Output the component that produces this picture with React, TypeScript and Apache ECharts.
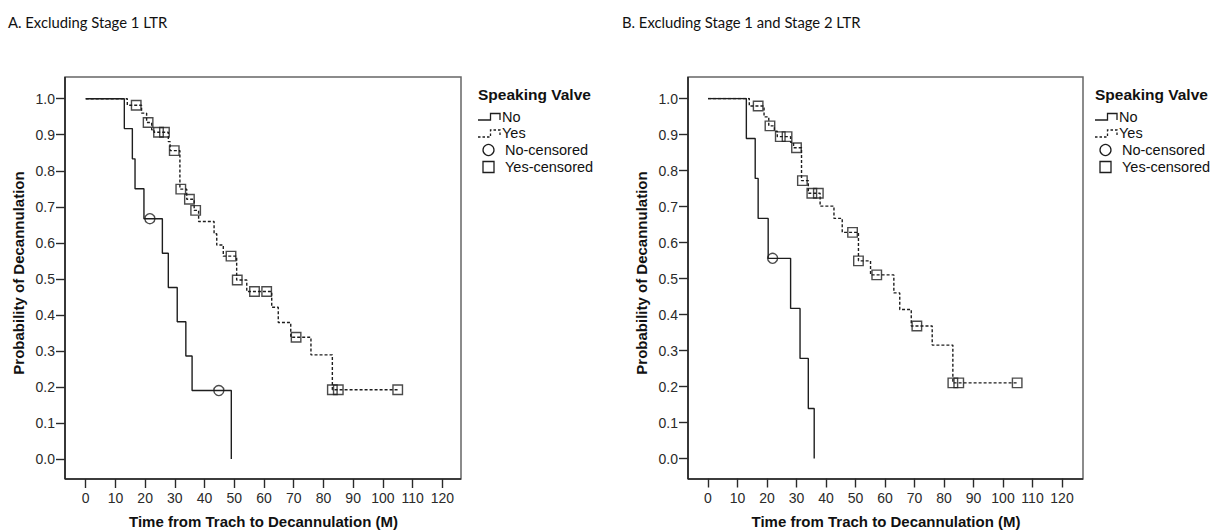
import React, { useEffect, useRef } from "react";
import * as echarts from "echarts";

// ---------- Data ----------
// Panel A: Excluding Stage 1 LTR
const noTimesA = [0, 13, 15.7, 16.6, 19.6, 25.8, 27.8, 30.8, 33.7, 35.8, 49];
const noSurvA = [1, 0.917, 0.833, 0.75, 0.667, 0.571, 0.476, 0.381, 0.286, 0.19, 0];
const noCensA = [21.6, 44.8];
const yesTimesA = [0, 14, 18.8, 20.5, 22.2, 23, 27.8, 28.4, 31.7, 34, 36.5, 38, 43.2, 44.1, 46.3, 50.8, 54.2, 62.6, 64.8, 69, 75.8, 83, 105];
const yesSurvA = [1, 0.982, 0.96, 0.934, 0.914, 0.907, 0.881, 0.856, 0.749, 0.721, 0.69, 0.659, 0.625, 0.594, 0.563, 0.497, 0.465, 0.421, 0.379, 0.338, 0.289, 0.192, 0.192];
const yesCensA = [17, 21, 24.5, 26.5, 29.8, 32, 34.9, 37, 48.9, 51, 56.8, 60.9, 70.8, 83, 85, 105];

// Panel B: Excluding Stage 1 and Stage 2 LTR
const noTimesB = [0, 13, 16, 17, 20.4, 28, 31.2, 34, 36];
const noSurvB = [1, 0.889, 0.778, 0.667, 0.556, 0.417, 0.278, 0.139, 0];
const noCensB = [21.9];
const yesTimesB = [0, 14, 19, 20.6, 22.5, 23.5, 28, 29, 31.7, 34, 38, 42.7, 45.5, 51, 55.1, 63, 65, 68.9, 76, 83, 105];
const yesSurvB = [1, 0.979, 0.949, 0.924, 0.909, 0.894, 0.878, 0.863, 0.772, 0.737, 0.701, 0.667, 0.628, 0.549, 0.51, 0.46, 0.414, 0.368, 0.315, 0.21, 0.21];
const yesCensB = [17, 21, 24.5, 26.8, 30, 32, 35.2, 37.4, 49, 51, 57.2, 70.8, 83, 85, 104.8];

const xTicks = { min: 0, max: 120, interval: 10 };
const yTicks = { min: 0, max: 1, interval: 0.1 };

const titleA = "A. Excluding Stage 1 LTR";
const titleB = "B. Excluding Stage 1 and Stage 2 LTR";
const xName = "Time from Trach to Decannulation (M)";
const yName = "Probability of Decannulation";
const legendTitle = "Speaking Valve";
const legendItems = ["No", "Yes", "No-censored", "Yes-censored"];

// ---------- helpers ----------
function pairs(t: number[], s: number[]) {
  return t.map((v, i) => [v, s[i]]);
}
function survAt(t: number[], s: number[], x: number) {
  let v = s[0];
  for (let i = 0; i < t.length; i++) if (t[i] <= x) v = s[i];
  return v;
}
function cens(t: number[], s: number[], c: number[]) {
  return c.map((x) => [x, survAt(t, s, x)]);
}

const LINE = "#1e1e1e";
const AX = "#2a2a2a";
const SANS = "'Liberation Sans', Arial, sans-serif";

function panelGraphics(p: {
  fl: number; fr: number; ft: number; fb: number;
  title: string; titleX: number; xTitleX: number; yTitleX: number; yTitleY: number;
  legX: number;
}) {
  const els: any[] = [];
  els.push({ type: "rect", shape: { x: p.fl, y: p.ft, width: p.fr - p.fl, height: p.fb - p.ft }, style: { fill: "none", stroke: "#666", lineWidth: 1.5 }, silent: true });
  els.push({ type: "line", shape: { x1: p.fl, y1: p.ft, x2: p.fl, y2: p.fb }, style: { stroke: "#222", lineWidth: 1.6 } });
  els.push({ type: "line", shape: { x1: p.fl, y1: p.fb, x2: p.fr, y2: p.fb }, style: { stroke: "#222", lineWidth: 1.6 } });
  els.push({ type: "text", x: p.titleX, y: 22, style: { text: p.title, font: "14.8px Lato, 'Open Sans', sans-serif", fill: "#111", textVerticalAlign: "middle", textAlign: "left" } });
  els.push({ type: "text", x: p.xTitleX, y: 521, style: { text: xName, font: "bold 15px " + SANS, fill: "#111", textAlign: "center", textVerticalAlign: "middle" } });
  els.push({ type: "text", x: p.yTitleX, y: p.yTitleY, rotation: Math.PI / 2, style: { text: yName, font: "bold 15px " + SANS, fill: "#111", textAlign: "center", textVerticalAlign: "middle" } });
  // legend
  const lx = p.legX;
  els.push({ type: "text", x: lx, y: 94, style: { text: legendTitle, font: "bold 15.5px " + SANS, fill: "#111", textVerticalAlign: "middle" } });
  els.push({ type: "polyline", shape: { points: [[lx, 120], [lx + 12.5, 120], [lx + 12.5, 113.5], [lx + 22, 113.5], [lx + 22, 120]] }, style: { stroke: LINE, lineWidth: 1.3, fill: "none" } });
  els.push({ type: "text", x: lx + 24, y: 116.5, style: { text: legendItems[0], font: "14.5px " + SANS, fill: "#111", textVerticalAlign: "middle" } });
  els.push({ type: "polyline", shape: { points: [[lx, 137], [lx + 12.5, 137], [lx + 12.5, 130], [lx + 22, 130], [lx + 22, 136]] }, style: { stroke: LINE, lineWidth: 1.3, fill: "none", lineDash: [2.5, 2] } });
  els.push({ type: "text", x: lx + 24, y: 133, style: { text: legendItems[1], font: "14.5px " + SANS, fill: "#111", textVerticalAlign: "middle" } });
  els.push({ type: "circle", shape: { cx: lx + 10.5, cy: 150, r: 5.5 }, style: { fill: "none", stroke: LINE, lineWidth: 1.3 } });
  els.push({ type: "text", x: lx + 27, y: 150, style: { text: legendItems[2], font: "14.5px " + SANS, fill: "#111", textVerticalAlign: "middle" } });
  els.push({ type: "rect", shape: { x: lx + 5, y: 161.5, width: 11, height: 11 }, style: { fill: "none", stroke: LINE, lineWidth: 1.3 } });
  els.push({ type: "text", x: lx + 27, y: 167, style: { text: legendItems[3], font: "14.5px " + SANS, fill: "#111", textVerticalAlign: "middle" } });
  return els;
}

function xAxisCfg(gi: number) {
  return {
    type: "value", gridIndex: gi, ...xTicks, offset: 20, position: "bottom",
    axisLine: { show: false, onZero: false },
    axisTick: { show: true, length: 9, lineStyle: { color: AX, width: 1.4 } },
    axisLabel: { fontSize: 14, color: AX, margin: 12, fontFamily: SANS },
    splitLine: { show: false },
  };
}
function yAxisCfg(gi: number, off: number) {
  return {
    type: "value", gridIndex: gi, ...yTicks, offset: off, position: "left",
    axisLine: { show: false, onZero: false },
    axisTick: { show: true, length: 9, lineStyle: { color: AX, width: 1.4 } },
    axisLabel: { fontSize: 14, color: AX, margin: 10, fontFamily: SANS, formatter: (v: number) => v.toFixed(1) },
    splitLine: { show: false },
  };
}
function kmLine(data: number[][], idx: number, dashed: boolean) {
  return {
    type: "line", step: "end", xAxisIndex: idx, yAxisIndex: idx, data, showSymbol: false, symbol: "none",
    lineStyle: { color: LINE, width: 1.4, type: dashed ? [3, 2] : "solid" }, silent: true, z: 2,
  };
}
function censScatter(data: number[][], idx: number, sym: string) {
  return {
    type: "scatter", xAxisIndex: idx, yAxisIndex: idx, data, symbol: sym, symbolSize: sym === "rect" ? 9.5 : 10,
    itemStyle: { color: "rgba(255,255,255,0)", borderColor: LINE, borderWidth: 1.4 }, silent: true, z: 3,
  };
}

export default function App() {
  const ref = useRef<HTMLDivElement>(null);
  useEffect(() => {
    if (!ref.current) return;
    const chart = echarts.init(ref.current, null, { renderer: "svg" });
    const option: any = {
      animation: false,
      backgroundColor: "#fff",
      grid: [
        { left: 85.7, top: 98.7, width: 356.6, height: 360.3 },
        { left: 708, top: 98.5, width: 354, height: 360 },
      ],
      xAxis: [xAxisCfg(0), xAxisCfg(1)],
      yAxis: [yAxisCfg(0, 20.7), yAxisCfg(1, 20)],
      series: [
        kmLine(pairs(noTimesA, noSurvA), 0, false),
        kmLine(pairs(yesTimesA, yesSurvA), 0, true),
        censScatter(cens(noTimesA, noSurvA, noCensA), 0, "circle"),
        censScatter(cens(yesTimesA, yesSurvA, yesCensA), 0, "rect"),
        kmLine(pairs(noTimesB, noSurvB), 1, false),
        kmLine(pairs(yesTimesB, yesSurvB), 1, true),
        censScatter(cens(noTimesB, noSurvB, noCensB), 1, "circle"),
        censScatter(cens(yesTimesB, yesSurvB, yesCensB), 1, "rect"),
      ],
      graphic: [
        ...panelGraphics({ fl: 65, fr: 461, ft: 77, fb: 479, title: titleA, titleX: 8, xTitleX: 263.5, yTitleX: 18, yTitleY: 273, legX: 478 }),
        ...panelGraphics({ fl: 688, fr: 1083, ft: 77, fb: 479, title: titleB, titleX: 622, xTitleX: 886, yTitleX: 641, yTitleY: 273, legX: 1095 }),
      ],
    };
    chart.setOption(option);
    return () => chart.dispose();
  }, []);
  return <div ref={ref} style={{ position: "absolute", left: 0, top: 0, width: 1218, height: 531 }} />;
}
